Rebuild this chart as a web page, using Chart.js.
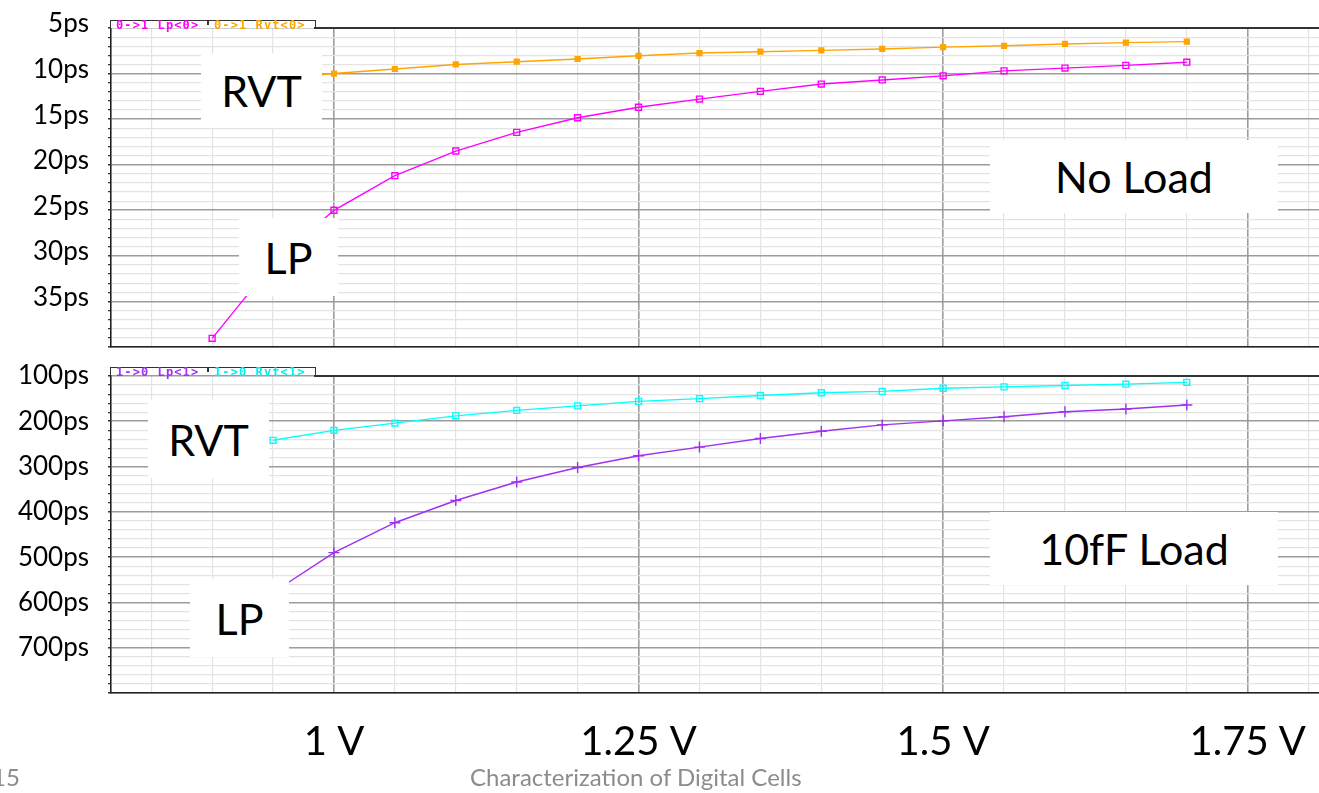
<!DOCTYPE html>
<html>
<head>
<meta charset="utf-8">
<script src="https://cdn.jsdelivr.net/npm/chart.js@4/dist/chart.umd.min.js"></script>
<style>
  html, body { margin: 0; padding: 0; background: #fff; width: 1319px; height: 793px; overflow: hidden; position: relative; font-family: Lato, "Open Sans", sans-serif; }
  canvas { position: absolute; left: 0; }
  #top { top: 0; }
  #bottom { top: 350px; }
  .tag { position: absolute; background: #fff; color: #000; font-size: 43px; display: flex; align-items: center; justify-content: center; }
  .tab { position: absolute; left: 110px; width: 204px; height: 7px; border: 1.5px solid #333; border-bottom: none; background: #fff;
         font: bold 12px "DejaVu Sans Mono", monospace; letter-spacing: 1.1px; line-height: 9px; white-space: nowrap; overflow: visible; }
  .tab span { position: absolute; top: 0px; }
  .tab .sep { position: absolute; left: 96px; top: 0; width: 1.5px; height: 4px; background: #333; }
  .rule { position: absolute; left: 314px; right: 0; height: 1.5px; background: #333; }
  .footer { position: absolute; top: 762px; font-size: 24px; color: #8c8c8c; }
</style>
</head>
<body>
<canvas id="top" width="1319" height="350"></canvas>
<canvas id="bottom" width="1319" height="443"></canvas>

<div class="tab" style="top:20px"><span style="left:5px;color:#ff00ff">0-&gt;1 Lp&lt;0&gt;</span><div class="sep"></div><span style="left:103px;color:#ffa500">0-&gt;1 Rvt&lt;0&gt;</span></div>
<div class="rule" style="top:27px"></div>
<div class="tab" style="top:367px"><span style="left:5px;color:#a030f0">1-&gt;0 Lp&lt;1&gt;</span><div class="sep"></div><span style="left:103px;color:#00f0f0">1-&gt;0 Rvt&lt;1&gt;</span></div>
<div class="rule" style="top:375px"></div>

<div class="tag" style="left:201px;top:53px;width:121px;height:75px">RVT</div>
<div class="tag" style="left:239px;top:218px;width:99px;height:78px">LP</div>
<div class="tag" style="left:990px;top:140px;width:288px;height:73px">No Load</div>
<div class="tag" style="left:148px;top:400px;width:121px;height:78px">RVT</div>
<div class="tag" style="left:190px;top:579px;width:99px;height:78px">LP</div>
<div class="tag" style="left:990px;top:512px;width:288px;height:73px">10fF Load</div>

<div class="footer" style="left:-8px">15</div>
<div class="footer" style="left:470px">Characterization of Digital Cells</div>

<script>
// Supply voltage sweep (V)
const voltage = [0.9, 0.95, 1.0, 1.05, 1.1, 1.15, 1.2, 1.25, 1.3, 1.35, 1.4, 1.45, 1.5, 1.55, 1.6, 1.65, 1.7];

// No load: 0->1 transition delay (ps)
const lpRise  = [39.05, 30.8, 25.0, 21.2, 18.5, 16.45, 14.85, 13.7, 12.8, 11.95, 11.15, 10.7, 10.25, 9.7, 9.4, 9.1, 8.75];
const rvtRise = [null, 10.6, 10.0, 9.5, 9.0, 8.7, 8.4, 8.05, 7.75, 7.6, 7.45, 7.3, 7.1, 6.95, 6.75, 6.6, 6.5];

// 10fF load: 1->0 transition delay (ps)
const lpFall  = [null, 578, 490, 424, 375, 334, 302, 276, 257, 238, 222, 208, 199, 190, 179, 173, 164];
const rvtFall = [null, 242, 220, 204, 188, 176, 166, 156, 150, 143, 137, 134, 127, 124, 121, 118, 114];

// Axis labels
const voltTicks = [1, 1.25, 1.5, 1.75];
const topDelayTicks = [5, 10, 15, 20, 25, 30, 35];
const bottomDelayTicks = [100, 200, 300, 400, 500, 600, 700];

Chart.defaults.font.family = 'Lato, "Open Sans", sans-serif';
Chart.defaults.color = '#000';

const MAJOR = '#9c9c9c', MINOR = '#e3e3e3', AXIS = '#222';

function pts(arr) {
  return voltage.map((v, i) => ({ x: v, y: arr[i] })).filter(p => p.y !== null);
}

function isMajorVolt(v) { return Math.round(v * 100) % 25 === 0; }

function xScale(showLabels) {
  return {
    type: 'linear', min: 0.817, max: 1.8085,
    grid: {
      drawTicks: false,
      color: c => (c.tick && isMajorVolt(c.tick.value)) ? MAJOR : MINOR,
      lineWidth: c => (c.tick && isMajorVolt(c.tick.value)) ? 1.6 : 1.2
    },
    border: { color: AXIS, width: 1.6 },
    ticks: {
      stepSize: 0.05, includeBounds: false, autoSkip: false, maxRotation: 0,
      display: showLabels, padding: 25,
      font: { size: 40 }, color: '#000',
      callback: v => voltTicks.some(t => Math.abs(t - v) < 1e-6) ? v + ' V' : ''
    },
    afterFit: s => {
      s.height = showLabels ? 100 : 0;
      s.paddingLeft = 0; s.paddingRight = 0;
    }
  };
}

function yScale(min, max, step, majorEvery, labels, offset) {
  return {
    type: 'linear', reverse: true, min, max,
    grid: {
      tickLength: 3, tickColor: '#333',
      color: c => (c.tick && c.tick.value % majorEvery === 0) ? MAJOR : MINOR,
      lineWidth: c => (c.tick && c.tick.value % majorEvery === 0) ? 1.6 : 1.2
    },
    border: { color: AXIS, width: 1.6 },
    ticks: {
      stepSize: step, autoSkip: false, padding: 19, labelOffset: offset,
      font: { size: 26 }, color: '#000',
      callback: v => labels.includes(v) ? v + 'ps' : ''
    },
    afterFit: s => {
      s.width = 111;
      s.paddingTop = 0; s.paddingBottom = 0;
    }
  };
}

function series(label, data, color, style, radius, fill) {
  return {
    label, data: pts(data),
    borderColor: color, borderWidth: 1.4,
    pointStyle: style, pointRadius: radius, pointHoverRadius: radius,
    pointBorderColor: color, pointBorderWidth: 1.4,
    pointBackgroundColor: fill ? color : 'rgba(255,255,255,0)',
    tension: 0, fill: false
  };
}

const common = {
  responsive: false, animation: false,
  plugins: { legend: { display: false }, tooltip: { enabled: false } },
  events: []
};

new Chart(document.getElementById('top'), {
  type: 'line',
  data: {
    datasets: [
      series('0->1 Lp<0>', lpRise, '#ff00ff', 'rect', 4.2, false),
      series('0->1 Rvt<0>', rvtRise, '#ffa500', 'rect', 3.4, true)
    ]
  },
  options: Object.assign({}, common, {
    layout: { autoPadding: false, padding: { top: 28, bottom: 3, left: 0, right: 0 } },
    scales: {
      x: xScale(false),
      y: yScale(5, 40, 1, 5, topDelayTicks, -4)
    }
  })
});

new Chart(document.getElementById('bottom'), {
  type: 'line',
  data: {
    datasets: [
      series('1->0 Lp<1>', lpFall, '#a030f0', 'cross', 5.5, false),
      series('1->0 Rvt<1>', rvtFall, '#00ffff', 'rect', 4.2, false)
    ]
  },
  options: Object.assign({}, common, {
    layout: { autoPadding: false, padding: { top: 26, bottom: 0, left: 0, right: 0 } },
    scales: {
      x: xScale(true),
      y: yScale(100, 800, 20, 100, bottomDelayTicks, 0)
    }
  })
});
</script>
</body>
</html>
